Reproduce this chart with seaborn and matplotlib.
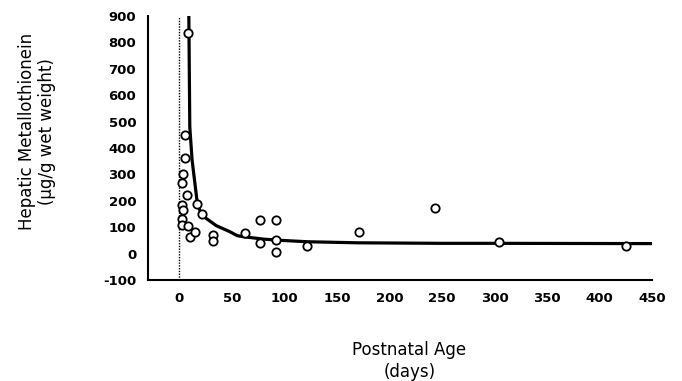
import numpy as np
import pandas as pd
import matplotlib
matplotlib.use("Agg")
import matplotlib.pyplot as plt
import seaborn as sns

# measured points (postnatal age in days, metallothionein ug/g)
age_days = [8, 5, 5, 3.5, 2.5, 7, 2.5, 3, 2.5, 2.5, 8, 10, 14.5, 17, 21,
            32, 32, 62, 77, 77, 92, 92, 92, 121, 171, 243, 304, 425]
mt_level = [835, 450, 362, 301, 266, 221, 184, 165, 131, 107, 104, 62, 81, 189, 151,
            69, 49, 79, 127, 39, 127, 52, 7, 29, 83, 172, 45, 29]

# fitted curve
curve_x = [8.9, 9.8, 12, 17, 21, 35, 48, 55, 61, 80, 93, 122, 170, 250, 300, 450]
curve_y = [900, 480, 354, 190, 146, 106, 83, 68, 64, 55, 51, 45, 41, 39, 39, 38]

yticks = list(range(-100, 901, 100))
xticks = list(range(0, 451, 50))

sns.set_style("white")
plt.rcParams["font.family"] = ["DejaVu Sans"]
plt.rcParams["axes.unicode_minus"] = False
plt.rcParams["text.color"] = "black"

fig = plt.figure(figsize=(6.82, 3.81), dpi=100)
ax = fig.add_axes([0.217, 0.265, 0.739, 0.693])

pts = pd.DataFrame({"age": age_days, "mt": mt_level})
fit = pd.DataFrame({"age": curve_x, "mt": curve_y})

ax.axvline(0, ymin=0, ymax=0.995, color="black", lw=1.0, ls=(0, (1, 1)), zorder=1)
sns.lineplot(data=fit, x="age", y="mt", ax=ax, color="black", lw=2.3, sort=False,
             zorder=2)
sns.scatterplot(data=pts, x="age", y="mt", ax=ax, s=36, marker="o",
                facecolor="white", edgecolor="black", linewidth=1.3, zorder=3)

ax.set_xlim(-30, 450)
ax.set_ylim(-100, 900)
ax.set_xticks(xticks)
ax.set_yticks(yticks)
ax.tick_params(axis="both", direction="out", length=5, width=1.2, labelsize=9.5,
               colors="black")
for lab in ax.get_xticklabels() + ax.get_yticklabels():
    lab.set_fontweight("bold")
sns.despine(ax=ax)
for side in ["left", "bottom"]:
    ax.spines[side].set_linewidth(1.5)
    ax.spines[side].set_color("black")

ax.set_xlabel("")
ax.set_ylabel("")
fig.text(0.054, 0.655, "Hepatic Metallothionein\n(\u00b5g/g wet weight)", rotation=90,
         ha="center", va="center", fontsize=12, linespacing=1.1)
fig.text(0.6, 0.053, "Postnatal Age\n(days)", ha="center", va="center",
         fontsize=12, linespacing=1.25)

fig.savefig("out.png", dpi=100)
